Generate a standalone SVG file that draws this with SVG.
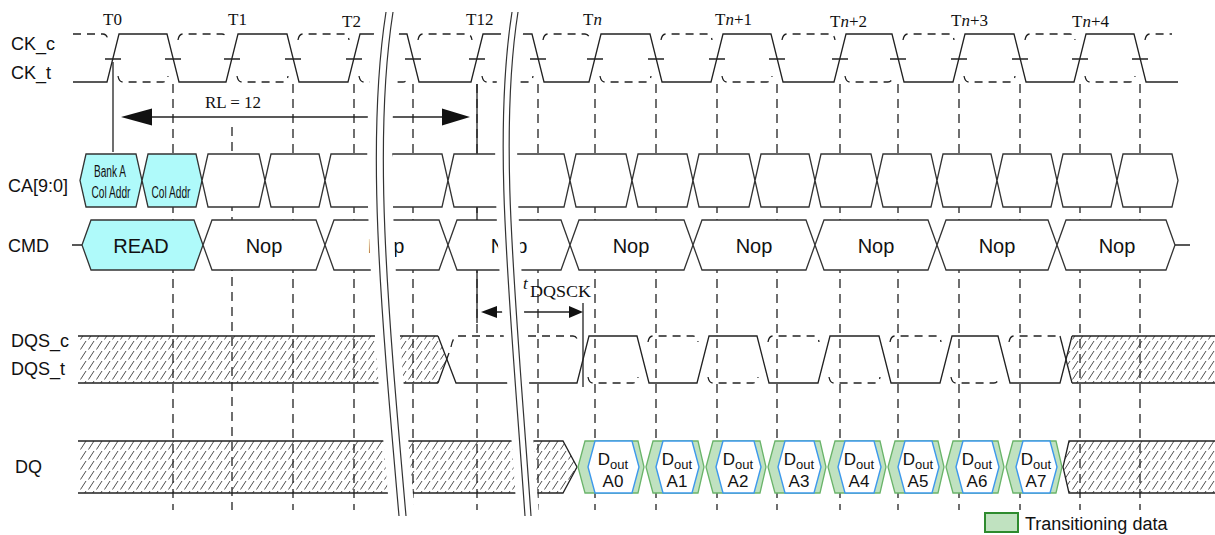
<svg xmlns="http://www.w3.org/2000/svg" width="1215" height="535" viewBox="0 0 1215 535">
<defs>
<style>
.sig{fill:none;stroke:#222;stroke-width:1.3}
.cdash{fill:none;stroke:#222;stroke-width:1.3;stroke-dasharray:8 6}
.vgrid{fill:none;stroke:#222;stroke-width:1.3;stroke-dasharray:9 6}
.cell{fill:#fff;stroke:#333;stroke-width:1.3}
.cyan{fill:#affafa}
.hatch{fill:url(#hatch);stroke:none}
.green{fill:#c0e2c0;stroke:#6ab46a;stroke-width:1.3}
.blue{fill:#fff;stroke:#3d98ec;stroke-width:1.4}
.lbl{font-family:"Liberation Sans",Arial,sans-serif;font-size:18px;fill:#111}
.ser{font-family:"Liberation Serif","Times New Roman",serif;font-size:17px;fill:#111}
.cmd{font-family:"Liberation Sans",Arial,sans-serif;font-size:20px;fill:#111;text-anchor:middle}
.ca{font-family:"Liberation Sans",Arial,sans-serif;font-size:16px;fill:#111;text-anchor:middle}
.dq{font-family:"Liberation Sans",Arial,sans-serif;font-size:17px;fill:#111;text-anchor:middle}
.sub{font-size:13px}
.brk{fill:none;stroke:#333;stroke-width:1.2}
.mask{fill:#fff;stroke:none}
</style>
<pattern id="hatch" patternUnits="userSpaceOnUse" width="8" height="10">
<path d="M0.5 9.5 L6 1" stroke="#222" stroke-width="0.8" fill="none"/>
</pattern>
</defs>
<rect width="1215" height="535" fill="#fff"/>

<g id="labels">
<text class="lbl" x="11" y="50">CK_c</text>
<text class="lbl" x="11" y="79">CK_t</text>
<text class="lbl" x="8" y="192">CA[9:0]</text>
<text class="lbl" x="8" y="252">CMD</text>
<text class="lbl" x="11" y="347">DQS_c</text>
<text class="lbl" x="11" y="375">DQS_t</text>
<text class="lbl" x="15" y="473">DQ</text>
<text class="ser" x="103" y="25">T0</text>
<text class="ser" x="228" y="25">T1</text>
<text class="ser" x="342" y="27">T2</text>
<text class="ser" x="466" y="25">T12</text>
<text class="ser" x="583" y="25">T<tspan font-style="italic">n</tspan></text>
<text class="ser" x="715" y="25">T<tspan font-style="italic">n</tspan>+1</text>
<text class="ser" x="830" y="27">T<tspan font-style="italic">n</tspan>+2</text>
<text class="ser" x="951" y="26">T<tspan font-style="italic">n</tspan>+3</text>
<text class="ser" x="1072" y="27">T<tspan font-style="italic">n</tspan>+4</text>
</g>

<g id="connectors">
<path class="vgrid" d="M173 84V510M232 127V510M293 84V510M354 84V510M413 84V510M477 84V510M538 84V510M595 84V510M656 84V510M717 84V510M777 84V510M840 84V510M898 84V510M959 84V510M1020 84V510M1080 84V510M1140 84V510"/>
<path class="sig" d="M113 62V152M477 84V323M583 303V387"/>
<path class="sig" d="M150 117H444"/>
<polygon points="121,117 152,108.5 152,125.5" fill="#111"/>
<polygon points="470,117 442,108.5 442,125.5" fill="#111"/>
<text class="ser" x="233" y="108" text-anchor="middle" font-size="18">RL = 12</text>
<path class="sig" d="M495 312H571"/>
<polygon points="481,312 497,306 497,318" fill="#111"/>
<polygon points="583,312 569,306 569,318" fill="#111"/>
<text class="ser" x="523" y="289" font-style="italic" font-size="20">t</text>
<text class="ser" x="530" y="297" font-size="15" textLength="61" lengthAdjust="spacingAndGlyphs">DQSCK</text>
</g>

<g id="clock">
<path class="sig" d="M73 82H107L119 34H167L179 82H226L238 34H287L299 82H348L360 34H407L419 82H471L483 34H532L544 82H589L601 34H650L662 82H711L723 34H771L783 82H834L846 34H892L904 82H953L965 34H1014L1026 82H1074L1086 34H1134L1146 82H1178"/>
<path class="cdash" d="M73 34H103Q107 34 108 40M118 76Q119 82 123 82H163Q167 82 168 76M178 40Q179 34 183 34H222Q226 34 227 40M237 76Q238 82 242 82H283Q287 82 288 76M298 40Q299 34 303 34H344Q348 34 349 40M359 76Q360 82 364 82H403Q407 82 408 76M418 40Q419 34 423 34H467Q471 34 472 40M482 76Q483 82 487 82H528Q532 82 533 76M543 40Q544 34 548 34H585Q589 34 590 40M600 76Q601 82 605 82H646Q650 82 651 76M661 40Q662 34 666 34H707Q711 34 712 40M722 76Q723 82 727 82H767Q771 82 772 76M782 40Q783 34 787 34H830Q834 34 835 40M845 76Q846 82 850 82H888Q892 82 893 76M903 40Q904 34 908 34H949Q953 34 954 40M964 76Q965 82 969 82H1010Q1014 82 1015 76M1025 40Q1026 34 1030 34H1070Q1074 34 1075 40M1085 76Q1086 82 1090 82H1130Q1134 82 1135 76M1145 40Q1146 34 1150 34H1172"/>
<path class="sig" d="M105 59h16M165 59h16M224 59h16M285 59h16M346 59h16M405 59h16M469 59h16M530 59h16M587 59h16M648 59h16M709 59h16M769 59h16M832 59h16M890 59h16M951 59h16M1012 59h16M1072 59h16M1132 59h16"/>
</g>

<g id="ca">
<path class="cell cyan" d="M80 180.5L86 154H136L142 180.5L136 207H86Z"/>
<path class="cell cyan" d="M142 180.5L148 154H196L202 180.5L196 207H148Z"/>
<path class="cell" d="M202 180.5L208 154H259L265 180.5L259 207H208Z"/>
<path class="cell" d="M265 180.5L271 154H319L325 180.5L319 207H271Z"/>
<path class="cell" d="M325 180.5L331 154H380L386 180.5L380 207H331Z"/>
<path class="cell" d="M386 180.5L392 154H442L448 180.5L442 207H392Z"/>
<path class="cell" d="M448 180.5L454 154H503L509 180.5L503 207H454Z"/>
<path class="cell" d="M509 180.5L515 154H564L570 180.5L564 207H515Z"/>
<path class="cell" d="M570 180.5L576 154H626L632 180.5L626 207H576Z"/>
<path class="cell" d="M632 180.5L638 154H687L693 180.5L687 207H638Z"/>
<path class="cell" d="M693 180.5L699 154H749L755 180.5L749 207H699Z"/>
<path class="cell" d="M755 180.5L761 154H809L815 180.5L809 207H761Z"/>
<path class="cell" d="M815 180.5L821 154H871L877 180.5L871 207H821Z"/>
<path class="cell" d="M877 180.5L883 154H931L937 180.5L931 207H883Z"/>
<path class="cell" d="M937 180.5L943 154H991L997 180.5L991 207H943Z"/>
<path class="cell" d="M997 180.5L1003 154H1051L1057 180.5L1051 207H1003Z"/>
<path class="cell" d="M1057 180.5L1063 154H1111L1117 180.5L1111 207H1063Z"/>
<path class="cell" d="M1117 180.5L1123 154H1172L1178 180.5L1172 207H1123Z"/>
<text class="ca" x="110" y="177" textLength="32" lengthAdjust="spacingAndGlyphs">Bank A</text>
<text class="ca" x="111" y="198" textLength="39" lengthAdjust="spacingAndGlyphs">Col Addr</text>
<text class="ca" x="171" y="198" textLength="39" lengthAdjust="spacingAndGlyphs">Col Addr</text>
</g>

<g id="cmd">
<path class="sig" d="M72 245H82M1175 245H1190"/>
<path class="cell cyan" d="M82 245L91 220H194L203 245L194 270H91Z"/>
<path class="cell" d="M203 245L212 220H316L325 245L316 270H212Z"/>
<path class="cell" d="M325 245L334 220H439L448 245L439 270H334Z"/>
<path class="cell" d="M448 245L457 220H561L570 245L561 270H457Z"/>
<path class="cell" d="M570 245L579 220H684L693 245L684 270H579Z"/>
<path class="cell" d="M693 245L702 220H806L815 245L806 270H702Z"/>
<path class="cell" d="M815 245L824 220H928L937 245L928 270H824Z"/>
<path class="cell" d="M937 245L946 220H1048L1057 245L1048 270H946Z"/>
<path class="cell" d="M1057 245L1066 220H1166L1175 245L1166 270H1066Z"/>
<text class="cmd" x="141" y="253">READ</text>
<text class="cmd" x="264" y="253">Nop</text>
<text class="cmd" x="386" y="253">Nop</text>
<text class="cmd" x="509" y="253">Nop</text>
<text class="cmd" x="631" y="253">Nop</text>
<text class="cmd" x="754" y="253">Nop</text>
<text class="cmd" x="876" y="253">Nop</text>
<text class="cmd" x="997" y="253">Nop</text>
<text class="cmd" x="1117" y="253">Nop</text>
</g>

<g id="dqs">
<path class="hatch" d="M80 336H438L447 359.5L438 383H80Z"/>
<path class="sig" d="M78 336H438M78 383H438M438 383L449 353"/>
<path class="sig" d="M438 336L456 383H577L589 336H637L649 383H697L709 336H757L769 383H818L830 336H879L891 383H940L952 336H998L1010 383H1060L1072 336"/>
<path class="cdash" d="M451 347Q453 336 458 336H573Q577 336 578 342M588 377Q589 383 593 383H633Q637 383 638 377M648 342Q649 336 653 336H693Q697 336 698 342M708 377Q709 383 713 383H753Q757 383 758 377M768 342Q769 336 773 336H814Q818 336 819 342M829 377Q830 383 834 383H875Q879 383 880 377M890 342Q891 336 895 336H936Q940 336 941 342M951 377Q952 383 956 383H994Q998 383 999 377M1009 342Q1010 336 1014 336H1058"/>
<path class="sig" d="M1060 336L1072 383"/>
<path class="hatch" d="M1066 359.5L1072 336H1215V383H1072Z"/>
<path class="sig" d="M1072 336H1215M1072 383H1215"/>
</g>

<g id="dq">
<path class="hatch" d="M80 441H563L577 467L563 493H80Z"/>
<path class="sig" d="M78 441H563L577 467L563 493H78"/>
<path class="green" d="M578 467L585 441H638L644 467L638 493H585Z"/>
<path class="blue" d="M588 467L595 441H632L639 467L632 493H595Z"/>
<path class="green" d="M646 467L653 441H698L704 467L698 493H653Z"/>
<path class="blue" d="M656 467L663 441H692L699 467L692 493H663Z"/>
<path class="green" d="M706 467L713 441H760L766 467L760 493H713Z"/>
<path class="blue" d="M716 467L723 441H754L761 467L754 493H723Z"/>
<path class="green" d="M768 467L775 441H820L826 467L820 493H775Z"/>
<path class="blue" d="M778 467L785 441H814L821 467L814 493H785Z"/>
<path class="green" d="M828 467L835 441H880L886 467L880 493H835Z"/>
<path class="blue" d="M838 467L845 441H874L881 467L874 493H845Z"/>
<path class="green" d="M888 467L895 441H938L944 467L938 493H895Z"/>
<path class="blue" d="M898 467L905 441H932L939 467L932 493H905Z"/>
<path class="green" d="M946 467L953 441H998L1004 467L998 493H953Z"/>
<path class="blue" d="M956 467L963 441H992L999 467L992 493H963Z"/>
<path class="green" d="M1006 467L1013 441H1056L1062 467L1056 493H1013Z"/>
<path class="blue" d="M1016 467L1023 441H1050L1057 467L1050 493H1023Z"/>
<path class="hatch" d="M1063 467L1069 441H1215V493H1069Z"/>
<path class="sig" d="M1215 441H1069L1063 467L1069 493H1215"/>
<text class="dq" x="613" y="465">D<tspan class="sub" dy="4">out</tspan></text><text class="dq" x="613" y="487">A0</text>
<text class="dq" x="677" y="465">D<tspan class="sub" dy="4">out</tspan></text><text class="dq" x="677" y="487">A1</text>
<text class="dq" x="738" y="465">D<tspan class="sub" dy="4">out</tspan></text><text class="dq" x="738" y="487">A2</text>
<text class="dq" x="799" y="465">D<tspan class="sub" dy="4">out</tspan></text><text class="dq" x="799" y="487">A3</text>
<text class="dq" x="859" y="465">D<tspan class="sub" dy="4">out</tspan></text><text class="dq" x="859" y="487">A4</text>
<text class="dq" x="918" y="465">D<tspan class="sub" dy="4">out</tspan></text><text class="dq" x="918" y="487">A5</text>
<text class="dq" x="977" y="465">D<tspan class="sub" dy="4">out</tspan></text><text class="dq" x="977" y="487">A6</text>
<text class="dq" x="1036" y="465">D<tspan class="sub" dy="4">out</tspan></text><text class="dq" x="1036" y="487">A7</text>
</g>

<g id="breaks">
<path class="mask" d="M377 12C357 140 371 300 390 516L415 516C396 300 382 140 402 12Z"/>
<path class="brk" d="M386 12C366 140 380 300 399 516M393 12C373 140 387 300 406 516"/>
<path class="mask" d="M504 12C484 140 502 300 517 516L539 516C524 300 506 140 526 12Z"/>
<path class="brk" d="M512 12C492 140 510 300 525 516M518 12C498 140 516 300 531 516"/>
</g>

<g id="legend">
<rect x="985" y="513" width="33" height="19" fill="#c0e2c0" stroke="#2e8b2e" stroke-width="2"/>
<text class="lbl" x="1025" y="530">Transitioning data</text>
</g>
</svg>
